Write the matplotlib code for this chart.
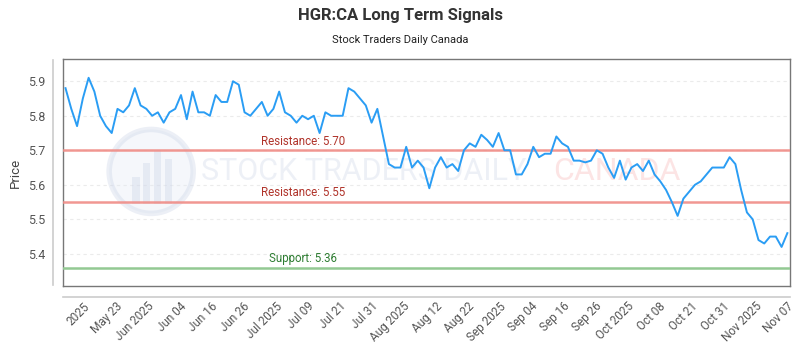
import numpy as np
import matplotlib
matplotlib.use("Agg")
import matplotlib.pyplot as plt
from matplotlib.patches import Ellipse, Rectangle

plt.rcParams['font.family'] = ['Roboto', 'DejaVu Sans']

# closing prices, one per trading day
prices = [
    5.88, 5.82, 5.77, 5.85, 5.91, 5.87, 5.80, 5.77, 5.75, 5.82,
    5.81, 5.83, 5.88, 5.83, 5.82, 5.80, 5.81, 5.78, 5.81, 5.82,
    5.86, 5.79, 5.87, 5.81, 5.81, 5.80, 5.86, 5.84, 5.84, 5.90,
    5.89, 5.81, 5.80, 5.82, 5.84, 5.80, 5.82, 5.87, 5.81, 5.80,
    5.78, 5.80, 5.79, 5.80, 5.75, 5.81, 5.80, 5.80, 5.80, 5.88,
    5.87, 5.85, 5.83, 5.78, 5.82, 5.74, 5.66, 5.65, 5.65, 5.71,
    5.65, 5.67, 5.65, 5.59, 5.65, 5.68, 5.65, 5.66, 5.64, 5.70,
    5.72, 5.71, 5.745, 5.73, 5.71, 5.75, 5.70, 5.70, 5.63, 5.63,
    5.66, 5.71, 5.68, 5.69, 5.69, 5.74, 5.72, 5.71, 5.67, 5.67,
    5.665, 5.67, 5.70, 5.69, 5.65, 5.62, 5.67, 5.615, 5.65, 5.66,
    5.64, 5.67, 5.63, 5.61, 5.585, 5.55, 5.51, 5.56, 5.58, 5.60,
    5.61, 5.63, 5.65, 5.65, 5.65, 5.68, 5.66, 5.585, 5.52, 5.50,
    5.44, 5.43, 5.45, 5.45, 5.42, 5.46,
]

tick_labels = ["2025", "May 23", "Jun 2025", "Jun 04", "Jun 16", "Jun 26",
               "Jul 2025", "Jul 09", "Jul 21", "Jul 31", "Aug 2025", "Aug 12",
               "Aug 22", "Sep 2025", "Sep 04", "Sep 16", "Sep 26", "Oct 2025",
               "Oct 08", "Oct 21", "Oct 31", "Nov 2025", "Nov 07"]

resistance_levels = [5.70, 5.55]
support_levels = [5.36]
y_ticks = [5.4, 5.5, 5.6, 5.7, 5.8, 5.9]

fig = plt.figure(figsize=(8, 3.5), dpi=100)
ax = fig.add_axes([0.079, 0.183, 0.9088, 0.648])

x = np.arange(len(prices))
ax.plot(x, prices, color='#2a9df4', linewidth=1.4, zorder=4)

# signal levels
for lvl in resistance_levels:
    ax.axhline(lvl, color='#f08c86', linewidth=1.8, alpha=0.9, zorder=3)
    ax.text(0.33, lvl + 0.008, f"Resistance: {lvl:.2f}", color='#b0332a',
            fontsize=8.3, ha='center', va='bottom',
            transform=ax.get_yaxis_transform(), zorder=5)
for lvl in support_levels:
    ax.axhline(lvl, color='#93c993', linewidth=1.8, zorder=3)
    ax.text(0.33, lvl + 0.008, f"Support: {lvl:.2f}", color='#2e7d32',
            fontsize=8.3, ha='center', va='bottom',
            transform=ax.get_yaxis_transform(), zorder=5)

# watermark
ax.text(0.413, 0.505, "STOCK TRADERS DAILY", transform=ax.transAxes,
        fontsize=22, color='#cdd6e8', alpha=0.35, ha='center', va='center', zorder=1)
ax.text(0.762, 0.505, "CANADA", transform=ax.transAxes,
        fontsize=23, color='#f7b4b4', alpha=0.35, ha='center', va='center', zorder=1)
ax.add_patch(Ellipse((0.121, 0.505), 84 / 727, 84 / 227, transform=ax.transAxes,
                     facecolor='#e3e9f4', edgecolor='#c9d3e6', linewidth=4,
                     alpha=0.35, zorder=1))
for bx, bh in [(0.095, 0.12), (0.11, 0.18), (0.125, 0.24), (0.14, 0.2)]:
    ax.add_patch(Rectangle((bx, 0.36), 0.01, bh, transform=ax.transAxes,
                           facecolor='#c9d3e6', alpha=0.35, zorder=1))

ax.set_xlim(-0.4, len(prices) - 0.5)
ax.set_ylim(5.307, 5.964)
ax.set_yticks(y_ticks)
ax.set_yticklabels([f"{v:.1f}" for v in y_ticks])
ax.set_xticks(np.linspace(3.1, len(prices) - 1, len(tick_labels)))
ax.set_xticklabels(tick_labels, rotation=45, ha='right', rotation_mode='anchor')
ax.tick_params(axis='y', length=0, pad=13, labelsize=9, labelcolor='#555555')
ax.tick_params(axis='x', length=0, pad=10, labelsize=8.5, labelcolor='#555555')
ax.set_ylabel("Price", fontsize=9.5, color='#444444', labelpad=4)

ax.grid(axis='y', color='#ebebeb', linestyle=(0, (3, 3)), linewidth=0.8)
ax.set_axisbelow(True)
for s in ax.spines.values():
    s.set_color('#777777')
    s.set_linewidth(1.0)

# offset axis lines outside the frame
ax.plot([-10 / 727, -10 / 727], [0.005, 0.995], transform=ax.transAxes,
        color='#cccccc', linewidth=1.2, clip_on=False)
ax.plot([0, 1], [-11 / 227, -11 / 227], transform=ax.transAxes,
        color='#cccccc', linewidth=1.2, clip_on=False)

fig.text(0.5, 0.955, "HGR:CA Long Term Signals", ha='center', va='center',
         fontsize=12, fontweight='bold', color='#333333')
fig.text(0.5, 0.885, "Stock Traders Daily Canada", ha='center', va='center',
         fontsize=8, color='#222222')

fig.savefig("out.png", dpi=100)
